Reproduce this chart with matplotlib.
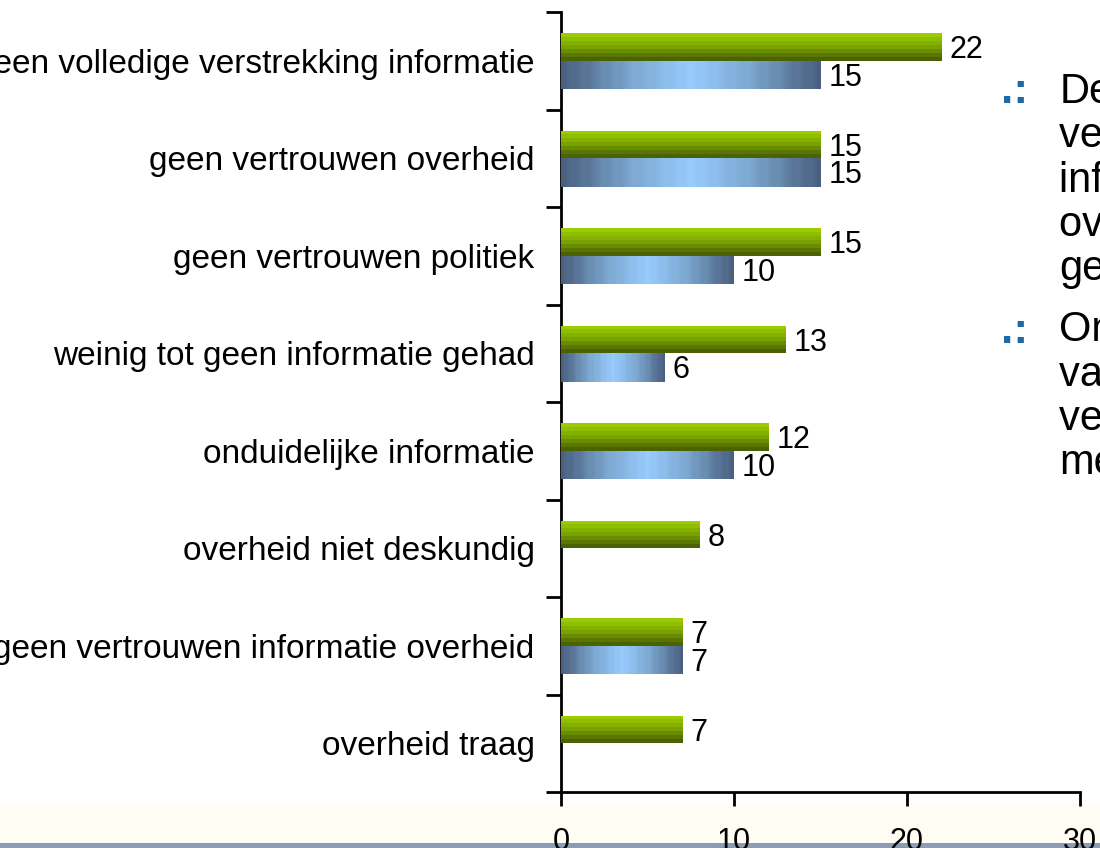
import numpy as np
import matplotlib
matplotlib.use('Agg')
import matplotlib.pyplot as plt
from matplotlib.colors import LinearSegmentedColormap
from matplotlib.patches import Rectangle

plt.rcParams['font.family'] = ['Liberation Sans', 'DejaVu Sans']

categories = [
    'geen volledige verstrekking informatie',
    'geen vertrouwen overheid',
    'geen vertrouwen politiek',
    'weinig tot geen informatie gehad',
    'onduidelijke informatie',
    'overheid niet deskundig',
    'geen vertrouwen informatie overheid',
    'overheid traag',
]
green_vals = [22, 15, 15, 13, 12, 8, 7, 7]
blue_vals = [15, 15, 10, 6, 10, None, 7, None]
x_ticks = [0, 10, 20, 30]

side_text_1 = 'De\nverstrekking van\ninformatie door de\noverheid wordt\ngemist'
side_text_2 = 'Onvoldoende\nvan het\nvertrouwen in de\nmedia'

green_cmap = LinearSegmentedColormap.from_list('g', ['#9acc00', '#7aa200', '#4a6200'])
blue_cmap = LinearSegmentedColormap.from_list('b', ['#99ccff', '#7aa4cc', '#4a6080'])

fig = plt.figure(figsize=(11, 8.48), dpi=100)
fig.patch.set_facecolor('white')

# bottom strip of the slide
fig.patches.append(Rectangle((0, 0.006), 1, 0.045, transform=fig.transFigure,
                             facecolor='#fffcf4', edgecolor='none', zorder=-2))
fig.patches.append(Rectangle((0, 0.0), 1, 0.006, transform=fig.transFigure,
                             facecolor='#8c9cb4', edgecolor='none', zorder=-2))

ax = fig.add_axes([0.51, 0.066, 0.4718, 0.9198])
ax.patch.set_alpha(0)

hg = 0.28
hb = 0.29
centers = np.arange(len(categories)) + 0.5

green_steps = np.linspace(0, 1, 7).reshape(-1, 1)
blue_steps = np.round(np.abs(np.linspace(-1, 1, 41)) * 12) / 12
blue_steps = blue_steps.reshape(1, -1)

for c, g, b in zip(centers, green_vals, blue_vals):
    bar = ax.barh(c - hg, g, height=hg, align='edge', color='#6f9400', zorder=2)[0]
    im = ax.imshow(green_steps, cmap=green_cmap, aspect='auto', origin='upper',
                   extent=(0, g, c, c - hg), interpolation='nearest', zorder=3)
    im.set_clip_path(bar)
    ax.text(g + 0.45, c - hg / 2 + 0.03, str(g), va='center', ha='left', fontsize=22)
    if b is not None:
        bar = ax.barh(c, b, height=hb, align='edge', color='#7aa4cc', zorder=2)[0]
        im = ax.imshow(blue_steps, cmap=blue_cmap, aspect='auto', origin='upper',
                       extent=(0, b, c + hb, c), interpolation='bilinear', zorder=3)
        im.set_clip_path(bar)
        ax.text(b + 0.45, c + hb / 2 + 0.03, str(b), va='center', ha='left', fontsize=22)

ax.set_xlim(0, 30)
ax.set_ylim(len(categories), 0)
ax.set_xticks(x_ticks)
ax.set_xticklabels([str(t) for t in x_ticks], fontsize=22)
ax.set_yticks(np.arange(len(categories) + 1))
ax.set_yticklabels([])
ax.set_yticks(centers, minor=True)
ax.set_yticklabels(categories, minor=True, fontsize=24)
ax.tick_params(axis='y', which='minor', length=0, pad=19)
ax.tick_params(axis='y', which='major', length=11, width=2)
ax.tick_params(axis='x', length=10, width=2, pad=15)

for s in ['top', 'right']:
    ax.spines[s].set_visible(False)
for s in ['left', 'bottom']:
    ax.spines[s].set_linewidth(2)

# side text from the slide, cut at the right edge
fig.text(0.910, 0.8785, '.:', color='#1f6aa5', fontsize=32, fontweight='bold', va='baseline')
fig.text(0.963, 0.915, side_text_1, fontsize=30, va='top', linespacing=1.14)
fig.text(0.910, 0.5955, '.:', color='#1f6aa5', fontsize=32, fontweight='bold', va='baseline')
fig.text(0.963, 0.634, side_text_2, fontsize=30, va='top', linespacing=1.14)

fig.savefig('out.png', dpi=100)
